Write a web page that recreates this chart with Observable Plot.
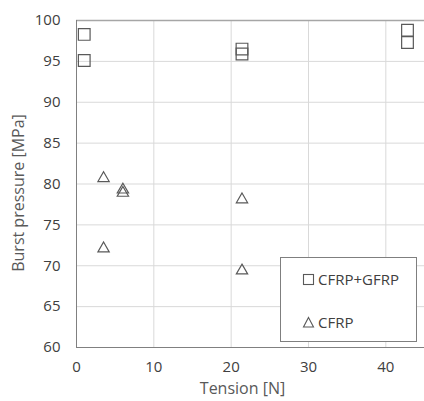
<!DOCTYPE html>
<html>
<head>
<meta charset="utf-8">
<script src="https://cdn.jsdelivr.net/npm/d3@7"></script>
<script src="https://cdn.jsdelivr.net/npm/@observablehq/plot@0.6"></script>
<style>
  html, body { margin: 0; padding: 0; background: white; }
  #wrap { position: relative; width: 424px; height: 401px; font-family: "Open Sans", sans-serif; }
  #legend { position: absolute; left: 280px; top: 257px; width: 137px; height: 85px;
            border: 1px solid #7f7f7f; background: white; box-sizing: border-box; }
</style>
</head>
<body>
<div id="wrap"></div>
<script>
// Data
const seriesNames = ["CFRP+GFRP", "CFRP"];
const tensionCG = [1.0, 1.0, 21.4, 21.4, 42.8, 42.8];
const pressureCG = [98.3, 95.1, 96.5, 95.9, 98.8, 97.3];
const tensionC = [3.5, 6.0, 6.0, 3.5, 21.4, 21.4];
const pressureC = [80.7, 79.3, 78.9, 72.1, 78.1, 69.4];
const xTicks = [0, 10, 20, 30, 40];
const yTicks = [60, 65, 70, 75, 80, 85, 90, 95, 100];
const xTitle = "Tension [N]";
const yTitle = "Burst pressure [MPa]";

const cg = tensionCG.map((t, i) => ({t, p: pressureCG[i]}));
const c = tensionC.map((t, i) => ({t, p: pressureC[i]}));

const ink = "#595959";
const chart = Plot.plot({
  width: 424, height: 401,
  marginLeft: 76, marginRight: 0, marginTop: 20, marginBottom: 54,
  x: {domain: [0, 45]},
  y: {domain: [60, 100]},
  style: {fontFamily: "'Open Sans', sans-serif", fontSize: "15px", color: "#404040", background: "white", overflow: "visible"},
  marks: [
    Plot.gridX(xTicks.slice(1), {stroke: "#d9d9d9", strokeOpacity: 1}),
    Plot.gridY(yTicks.slice(1, -1), {stroke: "#d9d9d9", strokeOpacity: 1}),
    Plot.ruleY([100], {stroke: "#a6a6a6", strokeWidth: 1.5}),
    Plot.axisX(xTicks, {tickSize: 0, tickPadding: 14, label: null}),
    Plot.axisY(yTicks, {tickSize: 0, tickPadding: 16, label: null}),
    Plot.ruleX([0], {stroke: "#808080"}),
    Plot.ruleY([60], {stroke: "#808080"}),
    Plot.dot(cg, {x: "t", y: "p", symbol: "square", r: 6.6, stroke: ink, strokeWidth: 1.2, fill: "none"}),
    Plot.dot(c, {x: "t", y: "p", symbol: "triangle", r: 4.2, stroke: ink, strokeWidth: 1.2, fill: "none"}),
    Plot.text([xTitle], {frameAnchor: "bottom", text: d => d, textAnchor: "middle", lineAnchor: "middle", dx: -8, dy: 41, fontSize: 16, fill: ink}),
    Plot.text([yTitle], {frameAnchor: "left", text: d => d, rotate: -90, textAnchor: "middle", lineAnchor: "middle", dx: -58, dy: 9, fontSize: 16, fill: ink})
  ]
});
const wrap = document.getElementById("wrap");
wrap.appendChild(chart);

// Legend
const leg = document.createElement("div");
leg.id = "legend";
leg.innerHTML = `
<svg width="135" height="83" style="position:absolute;left:0;top:0;font-family:'Open Sans',sans-serif;font-size:15px">
  <rect x="22.5" y="16.5" width="10" height="10" fill="none" stroke="${ink}" stroke-width="1.1"/>
  <text x="37" y="21.5" dy="0.35em" fill="#404040">${seriesNames[0]}</text>
  <path d="M27.5,59.5 L32.5,69 L22.5,69 Z" fill="none" stroke="${ink}" stroke-width="1.1"/>
  <text x="37" y="64.5" dy="0.35em" fill="#404040">${seriesNames[1]}</text>
</svg>`;
wrap.appendChild(leg);
</script>
</body>
</html>
